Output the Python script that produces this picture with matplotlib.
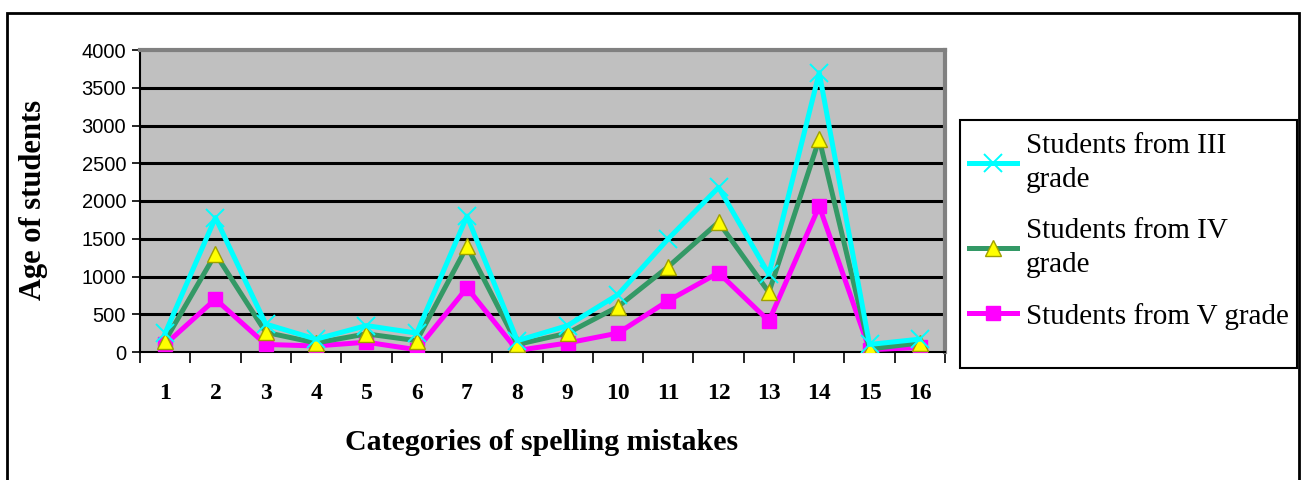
import numpy as np
import matplotlib
matplotlib.use('Agg')
import matplotlib.pyplot as plt
from matplotlib.patches import Rectangle

# categories of spelling mistakes and counts per grade
categories = list(range(1, 17))
grade_iii = [250, 1780, 370, 170, 350, 250, 1800, 150, 350, 760, 1500, 2180, 1030, 3700, 100, 170]
grade_iv = [150, 1300, 260, 120, 240, 150, 1400, 100, 250, 600, 1130, 1720, 790, 2820, 40, 120]
grade_v = [100, 700, 100, 80, 130, 30, 850, 20, 120, 250, 680, 1050, 410, 1930, 30, 60]
labels = ['Students from III\ngrade', 'Students from IV\ngrade', 'Students from V grade']

serif = 'Liberation Serif'
sans = 'Liberation Sans'
W, H = 1301, 480

fig = plt.figure(figsize=(W / 100, H / 100), dpi=100)
ax = fig.add_axes([140 / W, 1 - 352 / H, 805 / W, 302 / H])
ax.set_facecolor('#C0C0C0')

x = np.array(categories)
ax.plot(x, grade_iii, color='#00FFFF', lw=3.6, marker='x', ms=13, mew=1.4,
        mec='#00FFFF', label=labels[0], zorder=5)
ax.plot(x, grade_iv, color='#339966', lw=3.6, marker='^', ms=12, mfc='#FFFF00',
        mec='#A0A000', mew=1.0, label=labels[1], zorder=4)
ax.plot(x, grade_v, color='#FF00FF', lw=3.6, marker='s', ms=10.5, mfc='#FF00FF',
        mec='#FF00FF', label=labels[2], zorder=3)

ax.set_xlim(0.5, 16.5)
ax.set_ylim(0, 4000)
ax.set_yticks(np.arange(0, 4001, 500))
for yv in np.arange(500, 4000, 500):
    ax.axhline(yv, color='black', lw=2.2, zorder=1)

ax.set_xticks(np.arange(0.5, 16.6, 1))
ax.set_xticklabels([])
ax.set_xticks(x, minor=True)
ax.set_xticklabels([str(c) for c in categories], minor=True,
                   fontfamily=serif, fontweight='bold', fontsize=17)
ax.tick_params(axis='x', which='minor', length=0, pad=22)
ax.tick_params(axis='x', which='major', length=8, width=1.2, direction='out')
ax.tick_params(axis='y', length=6, width=1.2, direction='out', pad=4)
for t in ax.get_yticklabels():
    t.set_fontfamily(sans)
    t.set_fontsize(14.5)

ax.spines['left'].set_color('black')
ax.spines['left'].set_linewidth(1.5)
ax.spines['bottom'].set_color('black')
ax.spines['bottom'].set_linewidth(1.5)
ax.spines['top'].set_color('#808080')
ax.spines['top'].set_linewidth(3)
ax.spines['right'].set_color('#808080')
ax.spines['right'].set_linewidth(3)

fig.text(542 / W, 1 - 443 / H, 'Categories of spelling mistakes', ha='center',
         va='center', fontfamily=serif, fontweight='bold', fontsize=21.5)
fig.text(34 / W, 1 - 200 / H, 'Age of students', ha='center', va='center',
         rotation=90, fontfamily=serif, fontweight='bold', fontsize=22)

# legend entries without frame, box drawn separately
leg = fig.legend(loc='upper left', bbox_to_anchor=(969 / W, 1 - 133 / H),
                 prop={'family': serif, 'size': 21}, frameon=False,
                 handlelength=1.65, handletextpad=0.3, labelspacing=0.85,
                 borderpad=0, borderaxespad=0)
for t in leg.get_texts():
    t.set_linespacing(1.4)
fig.patches.append(Rectangle((960 / W, 1 - 368 / H), 337 / W, 248 / H,
                             transform=fig.transFigure, fill=False,
                             edgecolor='black', lw=1.5))

# outer frame around the chart
fig.patches.append(Rectangle((7 / W, -0.05), 1292 / W, 1.05 - 13 / H,
                             transform=fig.transFigure, fill=False,
                             edgecolor='black', lw=2))

fig.savefig('out.png', dpi=100)
